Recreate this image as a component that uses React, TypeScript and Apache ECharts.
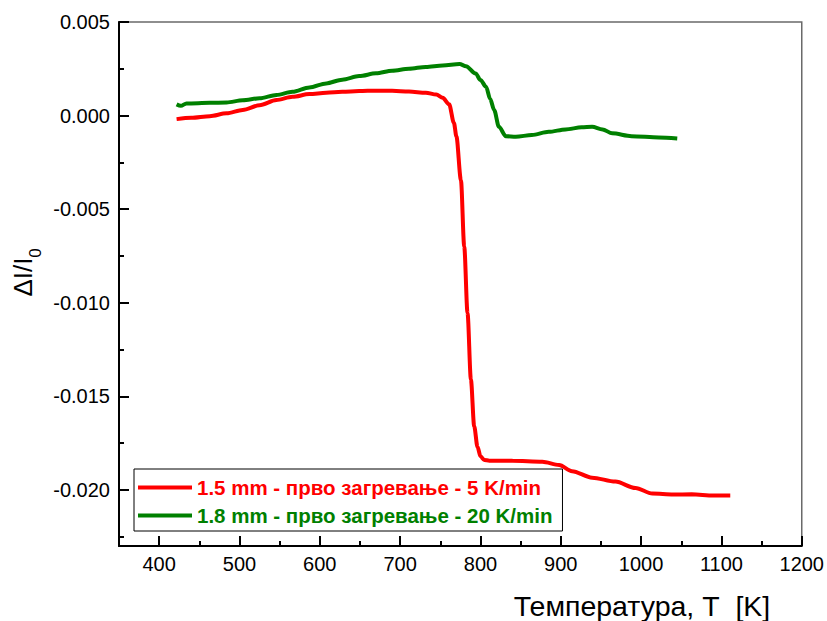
import React, { useEffect, useRef } from 'react';
import * as echarts from 'echarts';

const seriesNames = ['1.5 mm - прво загревање - 5 K/min', '1.8 mm - прво загревање - 20 K/min'];
const seriesColors = ['#ff0000', '#008000'];

const tempRed = [421.7, 440, 463, 484, 504, 525, 546, 566, 587, 608, 628, 649, 670, 690, 711, 732, 745, 753, 761, 767, 770, 775.7, 779.8, 783.9, 788.1, 792.2, 796.3, 800, 804.7, 811, 840, 877, 898, 914, 939, 968, 993, 1014, 1040, 1063, 1090, 1111];
const dlRed = [-0.00019, -0.00012, -0.00003, 0.00012, 0.0003, 0.00055, 0.00083, 0.001, 0.00115, 0.00122, 0.00127, 0.00131, 0.00133, 0.00132, 0.00128, 0.00122, 0.00112, 0.00095, 0.0006, -0.0004, -0.0011, -0.00345, -0.007, -0.01055, -0.0141, -0.0166, -0.0177, -0.0182, -0.0184, -0.01844, -0.01845, -0.0185, -0.01867, -0.019, -0.01935, -0.01956, -0.0199, -0.0202, -0.02025, -0.02024, -0.0203, -0.0203];

const tempGreen = [421.7, 427, 434, 463, 484, 504, 525, 546, 566, 587, 608, 628, 649, 670, 690, 711, 732, 753, 774, 782, 794, 800, 807, 812, 817, 823, 831.6, 844, 864, 885, 906, 926, 939, 952, 964, 988, 1022, 1045];
const dlGreen = [0.0006, 0.00052, 0.00065, 0.00068, 0.0007, 0.00082, 0.00092, 0.0011, 0.00127, 0.0015, 0.00172, 0.00192, 0.00211, 0.00226, 0.0024, 0.0025, 0.0026, 0.00268, 0.00275, 0.00264, 0.00225, 0.0019, 0.00154, 0.0009, 0.0003, -0.0006, -0.0011, -0.00113, -0.00104, -0.00087, -0.00074, -0.00063, -0.0006, -0.00074, -0.00095, -0.0011, -0.00117, -0.00122];

const xMajorTicks = [400, 500, 600, 700, 800, 900, 1000, 1100, 1200];
const xMinorTicks = [450, 550, 650, 750, 850, 950, 1050, 1150];
const yMajorTicks = [-0.02, -0.015, -0.01, -0.005, 0, 0.005];
const yMinorTicks = [-0.0225, -0.0175, -0.0125, -0.0075, -0.0025, 0.0025];

const xTitle = 'Температура, Т  [K]';
const yTitleMain = 'ΔI/I';
const yTitleSub = '0';

const FONT = '"Liberation Sans", Arial, Helvetica, sans-serif';

export default function App() {
  const ref = useRef<HTMLDivElement>(null);
  useEffect(() => {
    if (!ref.current) return;
    const chart = echarts.init(ref.current, undefined, { renderer: 'svg' });
    const zip = (xs: number[], ys: number[]) => xs.map((x, i) => [x, ys[i]]);
    const tickStyle = { color: '#000', width: 2 };
    chart.setOption({
      animation: false,
      backgroundColor: '#fff',
      textStyle: { fontFamily: FONT },
      grid: {
        left: 119, top: 22, width: 684, height: 524,
        show: true, borderColor: '#6a6a6a', borderWidth: 1.5, backgroundColor: 'transparent',
      },
      xAxis: [
        {
          type: 'value', min: 350, max: 1200, position: 'bottom',
          axisLine: { show: true, onZero: false, lineStyle: { color: '#000', width: 2 } },
          axisTick: { show: true, inside: true, length: 10, lineStyle: tickStyle, customValues: xMajorTicks },
          axisLabel: {
            show: true, customValues: xMajorTicks, fontSize: 20, color: '#000', margin: 8, fontFamily: FONT,
            formatter: (v: number) => String(v),
          },
          splitLine: { show: false },
        },
        {
          type: 'value', min: 350, max: 1200, position: 'bottom', offset: 0,
          axisLine: { show: false, onZero: false },
          axisTick: { show: true, inside: true, length: 5, lineStyle: tickStyle, customValues: xMinorTicks },
          axisLabel: { show: false },
          splitLine: { show: false },
        },
      ],
      yAxis: [
        {
          type: 'value', min: -0.023, max: 0.005, position: 'left',
          axisLine: { show: true, onZero: false, lineStyle: { color: '#000', width: 2 } },
          axisTick: { show: true, inside: true, length: 10, lineStyle: tickStyle, customValues: yMajorTicks },
          axisLabel: {
            show: true, customValues: yMajorTicks, fontSize: 20, color: '#000', margin: 9, fontFamily: FONT,
            formatter: (v: number) => (Math.abs(v) < 1e-9 ? '0.000' : v.toFixed(3)),
          },
          splitLine: { show: false },
        },
        {
          type: 'value', min: -0.023, max: 0.005, position: 'left', offset: 0,
          axisLine: { show: false, onZero: false },
          axisTick: { show: true, inside: true, length: 5, lineStyle: tickStyle, customValues: yMinorTicks },
          axisLabel: { show: false },
          splitLine: { show: false },
        },
      ],
      legend: {
        orient: 'vertical', left: 134, top: 469,
        padding: [8, 10, 5, 4], itemGap: 7,
        borderColor: '#000', borderWidth: 1, backgroundColor: '#fff',
        icon: 'rect', itemWidth: 54, itemHeight: 4,
        data: seriesNames.map((n, i) => ({ name: n, textStyle: { color: seriesColors[i] } })),
        textStyle: { fontSize: 20.5, fontWeight: 'bold', fontFamily: FONT },
      },
      graphic: [
        { type: 'text', x: 642, y: 606, style: { text: xTitle, fontSize: 28.5, fontFamily: FONT, fill: '#000', align: 'center', verticalAlign: 'middle' } },
        { type: 'text', x: 23, y: 277, rotation: Math.PI / 2, style: { text: yTitleMain, fontSize: 26, fontFamily: FONT, fill: '#000', align: 'center', verticalAlign: 'middle' } },
        { type: 'text', x: 35, y: 253, rotation: Math.PI / 2, style: { text: yTitleSub, fontSize: 17, fontFamily: FONT, fill: '#000', align: 'center', verticalAlign: 'middle' } },
      ],
      series: [
        {
          name: seriesNames[0], type: 'line', xAxisIndex: 0, yAxisIndex: 0,
          data: zip(tempRed, dlRed), showSymbol: false, smooth: 0.3, smoothMonotone: 'x',
          lineStyle: { color: seriesColors[0], width: 4 }, itemStyle: { color: seriesColors[0] },
        },
        {
          name: seriesNames[1], type: 'line', xAxisIndex: 0, yAxisIndex: 0,
          data: zip(tempGreen, dlGreen), showSymbol: false, smooth: 0.3, smoothMonotone: 'x',
          lineStyle: { color: seriesColors[1], width: 4 }, itemStyle: { color: seriesColors[1] },
        },
      ],
    });
    return () => chart.dispose();
  }, []);
  return <div ref={ref} style={{ position: 'fixed', left: 0, top: 0, width: 827, height: 621 }} />;
}
